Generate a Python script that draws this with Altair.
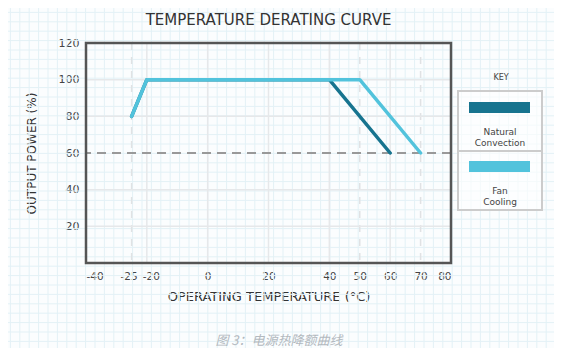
import altair as alt
import pandas as pd

# ---- data ----
series_names = ["Natural Convection", "Fan Cooling"]
natural_temp = [-25, -20, 40, 60]
natural_power = [80, 100, 100, 60]
fan_temp = [-25, -20, 50, 70]
fan_power = [80, 100, 100, 60]
x_tick_values = [-40, -25, -20, 0, 20, 40, 50, 60, 70, 80]
y_tick_values = [20, 40, 60, 80, 100, 120]
vgrid_solid = [-20, 0, 20, 40, 60]
vgrid_dashed = [-25, 50, 70]
hgrid_solid = [20, 40, 80, 100]
hgrid_dashed = [60]

colors = ["#17748f", "#52c3dc"]

W, H = 365, 220
X_DOM = [-40, 80]
Y_DOM = [0, 120]
FONT = "DejaVu Sans"

rows = []
for t, p in zip(natural_temp, natural_power):
    rows.append({"series": series_names[0], "temp": t, "power": p, "ord": len(rows)})
for t, p in zip(fan_temp, fan_power):
    rows.append({"series": series_names[1], "temp": t, "power": p, "ord": len(rows)})
df = pd.DataFrame(rows)

xscale = alt.Scale(domain=X_DOM, nice=False, zero=False)
yscale = alt.Scale(domain=Y_DOM, nice=False, zero=False)

xaxis = alt.Axis(values=x_tick_values, title="OPERATING TEMPERATURE (°C)", grid=False,
                 ticks=False, domain=False, labelPadding=8, titlePadding=9,
                 labelExpr="'' + datum.value",
                 labelOffset={"condition": [{"test": "datum.value == -25", "value": -3},
                                            {"test": "datum.value == -20", "value": 4}],
                              "value": 0},
                 labelFont=FONT, labelFontSize=10.5, labelColor="#444",
                 titleFont=FONT, titleFontSize=13, titleFontWeight="normal",
                 titleColor="#333", labelOverlap=False)
yaxis = alt.Axis(values=y_tick_values, title="OUTPUT POWER (%)", grid=False,
                 ticks=False, domain=False, labelPadding=7, titlePadding=20,
                 labelFont=FONT, labelFontSize=11, labelColor="#444",
                 titleFont=FONT, titleFontSize=12, titleFontWeight="normal",
                 titleColor="#333")

one = pd.DataFrame({"k": [0]})

# graph-paper background (decoration)
paper_v = alt.Chart(alt.sequence(-85, 480, 9.4, as_="p")).mark_rule(
    color="#e3f1f6", strokeWidth=1).encode(
    x=alt.X("p:Q", scale=None), y=alt.value(-43), y2=alt.value(317))
paper_h = alt.Chart(alt.sequence(-40, 320, 9.4, as_="p")).mark_rule(
    color="#e3f1f6", strokeWidth=1).encode(
    y=alt.Y("p:Q", scale=None), x=alt.value(-86), x2=alt.value(476))

vsolid = alt.Chart(pd.DataFrame({"t": vgrid_solid})).mark_rule(
    color="#e6e8ea", strokeWidth=1.5).encode(
    x=alt.X("t:Q", scale=xscale, axis=xaxis))
vdash = alt.Chart(pd.DataFrame({"t": vgrid_dashed})).mark_rule(
    color="#e0e2e4", strokeWidth=1.5, strokeDash=[7, 7]).encode(
    x=alt.X("t:Q", scale=xscale))
hsolid = alt.Chart(pd.DataFrame({"v": hgrid_solid})).mark_rule(
    color="#e6e8ea", strokeWidth=1.5).encode(
    y=alt.Y("v:Q", scale=yscale, axis=yaxis))
hdash = alt.Chart(pd.DataFrame({"v": hgrid_dashed})).mark_rule(
    color="#999999", strokeWidth=2, strokeDash=[9, 6]).encode(
    y=alt.Y("v:Q", scale=yscale))

lines = alt.Chart(df).mark_line(strokeWidth=3.5, strokeCap="round", strokeJoin="round").encode(
    x=alt.X("temp:Q", scale=xscale),
    y=alt.Y("power:Q", scale=yscale),
    color=alt.Color("series:N", scale=alt.Scale(domain=series_names, range=colors), legend=None),
    order="ord:Q",
    detail="series:N",
)

# frame, title and legend (decoration)
frame = alt.Chart(one).mark_rect(fillOpacity=0, stroke="#555555", strokeWidth=2.5).encode(
    x=alt.value(0), x2=alt.value(W), y=alt.value(0), y2=alt.value(H))
title_txt = alt.Chart(one).mark_text(font=FONT, fontSize=15, color="#333").encode(
    x=alt.value(W / 2), y=alt.value(-23), text=alt.value("TEMPERATURE DERATING CURVE"))
key_txt = alt.Chart(one).mark_text(font=FONT, fontSize=8, color="#444").encode(
    x=alt.value(415), y=alt.value(35), text=alt.value("KEY"))
box = alt.Chart(one).mark_rect(fill="#ffffff", fillOpacity=0.6, stroke="#cccccc", strokeWidth=2).encode(
    x=alt.value(372), x2=alt.value(456), y=alt.value(48), y2=alt.value(167))
divider = alt.Chart(one).mark_rule(color="#cccccc", strokeWidth=2).encode(
    x=alt.value(372), x2=alt.value(456), y=alt.value(108))
sw1 = alt.Chart(one).mark_rect(fill=colors[0]).encode(
    x=alt.value(383), x2=alt.value(444), y=alt.value(59), y2=alt.value(70))
sw2 = alt.Chart(one).mark_rect(fill=colors[1]).encode(
    x=alt.value(383), x2=alt.value(444), y=alt.value(118), y2=alt.value(129))
lab1 = alt.Chart(one).mark_text(font=FONT, fontSize=9, color="#444", lineBreak="\n", lineHeight=11).encode(
    x=alt.value(414), y=alt.value(89), text=alt.value("Natural\nConvection"))
lab2 = alt.Chart(one).mark_text(font=FONT, fontSize=9, color="#444", lineBreak="\n", lineHeight=11).encode(
    x=alt.value(414), y=alt.value(148), text=alt.value("Fan\nCooling"))

caption = alt.Chart(one).mark_text(font="Noto Sans CJK SC", fontSize=13, color="#b3b9bf",
                                   fontStyle="italic").encode(
    x=alt.value(193), y=alt.value(298), text=alt.value("图 3：电源热降额曲线"))

chart = alt.layer(
    paper_v, paper_h, vsolid, vdash, hsolid, hdash, lines, frame,
    box, divider, sw1, sw2, lab1, lab2, key_txt, title_txt, caption,
).properties(
    width=W, height=H,
    autosize=alt.AutoSizeParams(type="none"),
    padding={"left": 78, "top": 35, "right": 103, "bottom": 85},
    background="#fbfdfe",
).configure_view(stroke=None)

chart.save("out.html", embed_options={"renderer": "svg", "actions": False})
